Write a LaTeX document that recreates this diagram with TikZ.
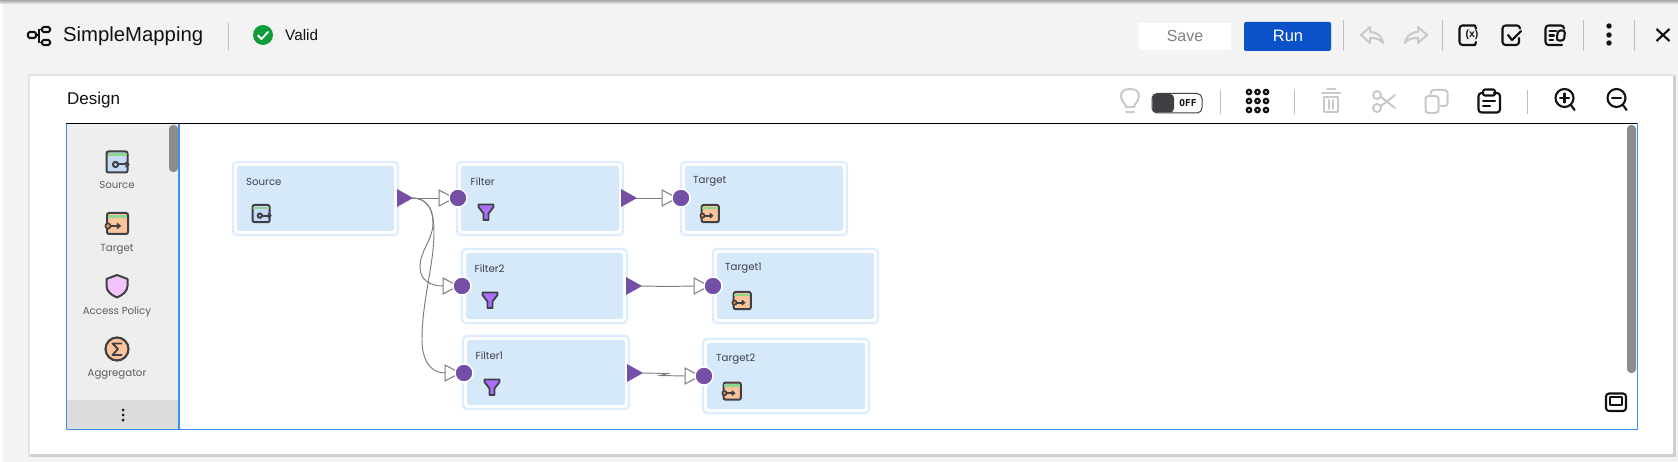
\documentclass[tikz,border=0pt]{standalone}
\usepackage{fontspec}
\setmainfont{Liberation Sans}
\newfontfamily\geo{Poppins}
\newfontfamily\offf{DejaVu Sans Mono}
\usetikzlibrary{calc}
\definecolor{bgc}{HTML}{F3F3F3}
\definecolor{cardsh}{HTML}{D0D0D0}
\definecolor{cardsl}{HTML}{E4E4E4}
\definecolor{canv}{HTML}{3B8FEF}
\definecolor{sideb}{HTML}{EEEEEE}
\definecolor{sidebot}{HTML}{DCDCDC}
\definecolor{scr}{HTML}{8C8C8C}
\definecolor{nfill}{HTML}{D6E9FB}
\definecolor{nedge}{HTML}{DDEDFD}
\definecolor{port}{HTML}{7350A5}
\definecolor{wirec}{HTML}{7C7C7C}
\definecolor{ink}{HTML}{111111}
\definecolor{icod}{HTML}{3F3F44}
\definecolor{dis}{HTML}{C9C9C9}
\definecolor{sep}{HTML}{BDBDBD}
\definecolor{runb}{HTML}{0B52C9}
\definecolor{okg}{HTML}{0F9D3B}
\definecolor{srcb}{HTML}{C6DAF8}
\definecolor{trgo}{HTML}{FDC49C}
\definecolor{grn}{HTML}{8FD68F}
\definecolor{fun}{HTML}{AA70FF}
\definecolor{shl}{HTML}{F3C4FB}
\tikzset{
  x=1pt,y=-1pt,
  sepline/.style={draw=sep,line width=1pt},
  mapbox/.style={draw=nedge,line width=2.2pt,fill=white,rounded corners=4pt,inner sep=0pt},
  innerbox/.style={fill=nfill,rounded corners=2.5pt},
  maplabel/.style={font=\geo\fontsize{10.2}{12}\selectfont,text=icod,anchor=west,inner sep=0pt},
  sidelabel/.style={font=\geo\fontsize{10.2}{12}\selectfont,text=icod!85,inner sep=0pt},
  uitext/.style={text=ink,inner sep=0pt},
  wire/.style={draw=wirec,line width=.95pt},
  ic/.style={draw=ink,line width=2.1pt,line cap=round,line join=round},
  icg/.style={draw=dis,line width=2pt,line cap=round,line join=round},
  outtri/.style={fill=port},
  intri/.style={fill=white,draw=wirec,line width=1pt,line join=miter},
  indot/.style={circle,fill=port,draw=white,line width=1.4pt,minimum size=18pt,inner sep=0pt},
  pics/srcic/.style={code={
    \draw[fill=srcb,draw=icod,line width=2pt,rounded corners=2pt] (0,0) rectangle (21,21);
    \fill[grn] (1,2) rectangle (20,5);
    \draw[icod,line width=2pt] (9,13) circle[radius=2.6];
    \draw[icod,line width=2pt] (12,13) -- (22,13);
    \draw[icod,line width=1.6pt] (19,10.5) -- (22,13) -- (19,15.5);
  }},
  pics/trgic/.style={code={
    \draw[fill=trgo,draw=icod,line width=2pt,rounded corners=2pt] (2,0) rectangle (23,21);
    \fill[grn] (3,2) rectangle (22,5);
    \draw[draw=icod,fill=orange!80,line width=1.6pt] (3,13) circle[radius=2.6];
    \draw[icod,line width=2pt] (6,13) -- (15,13);
    \draw[icod,line width=1.6pt] (12,10.5) -- (15,13) -- (12,15.5);
  }},
  pics/funnelic/.style={code={
    \draw[fill=fun,draw=icod,line width=1.8pt,line join=round] (0.5,0.5) -- (15.5,0.5) -- (15.5,3) -- (10.5,9.5) -- (10.5,16) -- (5.5,16) -- (5.5,9.5) -- (0.5,3) -- cycle;
  }},
  pics/undoic/.style={code={
    \draw[icg] (0,8) -- (9,0) -- (9,5) .. controls (17,5) and (21,10) .. (22,16) .. controls (19,12) and (15,11) .. (9,11) -- (9,16) -- cycle;
  }}
}
\newcommand{\mapnode}[6]{%
  \pgfmathsetmacro{\mw}{#4-#2}\pgfmathsetmacro{\mh}{#5-#3}%
  \pgfmathsetmacro{\mx}{(#4+#2)/2}\pgfmathsetmacro{\my}{(#5+#3)/2}%
  \node[mapbox,minimum width=\mw pt,minimum height=\mh pt] (#1) at (\mx,\my) {};%
  \fill[innerbox] (#2+4,#3+4) rectangle (#4-4,#5-4);%
}
\newcommand{\outport}[3]{%
  \fill[outtri] (#2,#3-9) -- (#2+16,#3) -- (#2,#3+9) -- cycle;%
  \coordinate (#1) at (#2+15,#3);%
}
\newcommand{\inport}[3]{%
  \draw[intri] (#2-19,#3-8) -- (#2-4,#3) -- (#2-19,#3+8) -- cycle;%
  \coordinate (#1) at (#2-19,#3);%
  \node[indot] (#1dot) at (#2,#3) {};%
}
\begin{document}
\begin{tikzpicture}
\useasboundingbox (0,0) rectangle (1678,462);
% page
\fill[bgc] (0,0) rectangle (1678,462);
\fill[white] (0,0) rectangle (3,462);
\fill[top color=gray!70,bottom color=bgc] (0,0) rectangle (1678,4);
% header
\draw[ic,rounded corners=1.5pt] (28,32) rectangle (36,38);
\draw[ic,rounded corners=1.5pt] (42,27) rectangle (50,32);
\draw[ic,rounded corners=1.5pt] (42,40) rectangle (50,45);
\draw[ic,line width=1.6pt] (36,35) -- (39,35) -- (39,29.5) -- (42,29.5);
\draw[ic,line width=1.6pt] (39,35) -- (39,42.5) -- (42,42.5);
\node[uitext,anchor=west,font=\fontsize{20.3}{24}\selectfont] (title) at (63,36.5) {SimpleMapping};
\draw[sepline] (228,23) -- (228,50);
\fill[okg] (263,35) circle[radius=10];
\draw[white,line width=1.8pt,line cap=round,line join=round] (258,35.5) -- (261.5,39) -- (268,32);
\node[uitext,anchor=west,font=\fontsize{15.3}{18}\selectfont] (valid) at (285,35.5) {Valid};
\fill[white] (1139,23) rectangle (1231,50);
\node[text=gray,inner sep=0pt,font=\fontsize{16}{20}\selectfont] (save) at (1185,36) {Save};
\fill[runb,rounded corners=2pt] (1244,22) rectangle (1331,51);
\node[text=white,inner sep=0pt,font=\fontsize{16.5}{20}\selectfont] (run) at (1288,36) {Run};
\draw[sepline] (1343,20) -- (1343,51);
\pic at (1361,27) {undoic};
\pic[xscale=-1] at (1427,27) {undoic};
\draw[sepline] (1442,20) -- (1442,51);
% (x) icon
\begin{scope}[xshift=34pt]
\draw[ic,rounded corners=3pt] (1441,25.5) -- (1425.5,25.5) -- (1425.5,45) -- (1441,45);
\draw[ic] (1441,25.5) -- (1442,28.5);
\draw[ic] (1441,45) -- (1442,42);
\node[inner sep=0pt,text=ink,font=\bfseries\fontsize{10.5}{11}\selectfont] (xic) at (1438,35) {(x)};
\end{scope}
% check icon
\begin{scope}[xshift=38pt]
\draw[ic,rounded corners=3pt] (1482,28) -- (1482,25.5) -- (1464.5,25.5) -- (1464.5,45) -- (1481,45) -- (1481,38);
\draw[ic] (1470,35) -- (1474,40) -- (1483,31);
\end{scope}
% doc icon
\begin{scope}[xshift=42pt]
\draw[ic,rounded corners=3pt] (1522,28) -- (1522,25.5) -- (1503.5,25.5) -- (1503.5,45) -- (1520,45);
\draw[ic] (1507.5,31) -- (1514,31);
\draw[ic] (1507.5,35.5) -- (1512,35.5);
\draw[ic] (1507.5,40) -- (1511,40);
\draw[ic,rounded corners=2.5pt] (1516,30.5) -- (1523,30.5) -- (1522,40.5) -- (1514.5,40.5) -- cycle;
\end{scope}
\draw[sepline] (1583,20) -- (1583,51);
\foreach \yy in {26,35,43} \fill[ink] (1609,\yy) circle[radius=2.7];
\draw[sepline] (1634,20) -- (1634,51);
\draw[ic,line width=2.1pt,line cap=butt] (1656.5,29) -- (1669.5,41) (1669.5,29) -- (1656.5,41);
% card
\fill[cardsl] (28,74) rectangle (1676,457);
\fill[cardsh] (30,76) rectangle (1676,457);
\fill[white] (30,76) rectangle (1673,454);
\node[uitext,anchor=west,font=\fontsize{17}{20}\selectfont] (design) at (67,100.5) {Design};
% toolbar
\begin{scope}[xshift=3pt]
\draw[icg] (1123,107) .. controls (1122,103) and (1118,101) .. (1118,96) .. controls (1118,91) and (1122,89) .. (1127,89) .. controls (1132,89) and (1136,91) .. (1136,96) .. controls (1136,101) and (1132,103) .. (1131,107) -- cycle;
\draw[icg] (1123,112) -- (1131,112);
\end{scope}
\draw[draw=icod,line width=1pt,fill=white,rounded corners=5pt] (1152,93.5) rectangle (1202,113);
\fill[icod,rounded corners=4pt] (1152.5,94) rectangle (1174,112.5);
\node[inner sep=0pt,text=ink,font=\offf\bfseries\fontsize{9.5}{11}\selectfont] (off) at (1188,103) {OFF};
\draw[sepline] (1220,90) -- (1220,114);
\foreach \xx in {1249,1257.5,1266} \foreach \yy in {92,101,110}
  \draw[ink,line width=2.2pt] (\xx,\yy) circle[radius=2.2];
\draw[sepline] (1294,90) -- (1294,114);
% trash
\begin{scope}[xshift=21pt]
\draw[icg] (1301,93) -- (1319,93) (1306,89.5) -- (1314,89.5);
\draw[icg] (1303,97) -- (1303,112.5) -- (1317,112.5) -- (1317,97) -- cycle;
\draw[icg] (1308,100) -- (1308,109) (1312,100) -- (1312,109);
\end{scope}
% scissors
\begin{scope}[xshift=26pt]
\draw[icg] (1351,95) circle[radius=4] (1351,108) circle[radius=4];
\draw[icg] (1355,97) -- (1369,108) (1355,106) -- (1369,95);
\end{scope}
% copy
\begin{scope}[xshift=30.5pt]
\draw[icg,rounded corners=3pt] (1395,96) rectangle (1408,113);
\draw[icg,rounded corners=3pt] (1400,94) -- (1400,90) -- (1417,90) -- (1417,106) -- (1410,106);
\end{scope}
% clipboard
\begin{scope}[xshift=36pt]
\draw[ic,rounded corners=3pt] (1447,93) -- (1442.5,93) -- (1442.5,112.5) -- (1464,112.5) -- (1464,93) -- (1458,93);
\draw[ic,rounded corners=2pt] (1447,89.5) rectangle (1459,95.5);
\draw[ic] (1447,101) -- (1459,101) (1447,106) -- (1454,106);
\end{scope}
\draw[sepline] (1527,90) -- (1527,114);
% zoom
\begin{scope}[xshift=44.5pt]
\draw[ic] (1520,98) circle[radius=9];
\draw[ic] (1526.5,105) -- (1530,110);
\draw[ic] (1515.5,98) -- (1524.5,98) (1520,93.5) -- (1520,102.5);
\end{scope}
\begin{scope}[xshift=49.5pt]
\draw[ic] (1567,98) circle[radius=9];
\draw[ic] (1573.5,105) -- (1577,110);
\draw[ic] (1562.5,98) -- (1571.5,98);
\end{scope}
% canvas
\fill[white] (66,124) rectangle (1637,429);
\fill[sideb] (66,124) rectangle (179,429);
\fill[sidebot] (66,400) rectangle (179,429);
\draw[canv,line width=1pt] (66,124) rectangle (1637,429);
\draw[canv,line width=1.3pt] (179,124) -- (179,429);
\draw[black,line width=1.1pt] (66,123.5) -- (1637,123.5);
\fill[scr,rounded corners=4pt] (169,125) rectangle (178,172);
\fill[scr,rounded corners=4pt] (1627,125) rectangle (1636,373);
\draw[ic,rounded corners=3pt] (1606,393.5) rectangle (1626,411);
\draw[ic,line width=1.5pt] (1610,397) rectangle (1622,405);
% palette
\pic at (106.5,151.5) {srcic};
\node[sidelabel] (pSource) at (117,185) {Source};
\pic at (105,213) {trgic};
\node[sidelabel] (pTarget) at (117,249) {Target};
\draw[fill=shl,draw=icod,line width=2pt,line join=round] (117,275) -- (127.5,279) -- (127.5,286) .. controls (127.5,291) and (123,295) .. (117,297.5) .. controls (111,295) and (106.5,291) .. (106.5,286) -- (106.5,279) -- cycle;
\node[sidelabel] (pAccess) at (117,312) {Access Policy};
\draw[fill=trgo,draw=icod,line width=2.2pt] (117,349) circle[radius=11.5];
\draw[icod,line width=1.9pt,line join=round] (122,343.5) -- (112.5,343.5) -- (118,349) -- (112.5,355) -- (122,355);
\node[sidelabel] (pAgg) at (117,374) {Aggregator};
\foreach \yy in {410,415,420} \fill[ink] (123,\yy) circle[radius=1.5];
% mapping nodes
\mapnode{source}{233}{162}{398}{235}{Source}
\mapnode{filter}{457}{162}{623}{235}{Filter}
\mapnode{filtertwo}{462}{249}{627}{323}{Filter2}
\mapnode{filterone}{463}{336}{629}{409}{Filter1}
\mapnode{target}{681}{162}{847}{235}{Target}
\mapnode{targetone}{713}{249}{878}{323}{Target1}
\mapnode{targettwo}{703}{339}{869}{413}{Target2}
\node[maplabel] (lSource) at (246,181.5) {Source};
\node[maplabel] (lFilter) at (470.5,181.5) {Filter};
\node[maplabel] (lFilterTwo) at (474.5,269) {Filter2};
\node[maplabel] (lFilterOne) at (475.5,356) {Filter1};
\node[maplabel] (lTarget) at (693,181.5) {Target};
\node[maplabel] (lTargetOne) at (725,268.5) {Target1};
\node[maplabel] (lTargetTwo) at (716,359) {Target2};
\pic[scale=.82] at (252.5,205) {srcic};
\pic at (478,204) {funnelic};
\pic at (482,292) {funnelic};
\pic at (484,379) {funnelic};
\pic[scale=.82] at (700,205) {trgic};
\pic[scale=.82] at (732,292) {trgic};
\pic[scale=.82] at (722,382.5) {trgic};
% ports
\outport{sOut}{397}{198}
\outport{fOut}{621}{198}
\outport{ftOut}{626}{286}
\outport{foOut}{627}{373}
\inport{fIn}{458}{198}
\inport{ftIn}{462}{286}
\inport{foIn}{464}{373}
\inport{tIn}{681}{198}
\inport{ttIn}{713}{286}
\inport{toIn}{704}{376}
% connectors
\draw[wire] (sOut) -- (fIn);
\draw[wire] (sOut) .. controls (426,198) and (433,208) .. (433,223) .. controls (433,240) and (420,250) .. (420,267) .. controls (420,280) and (430,286) .. (ftIn);
\draw[wire] (sOut) .. controls (428,198) and (434,210) .. (434,232) .. controls (434,265) and (422,300) .. (422,340) .. controls (422,362) and (432,373) .. (foIn);
\draw[wire] (fOut) -- (tIn);
\draw[wire] (ftOut) -- (667,286.5) -- (ttIn);
\draw[wire] (foOut) -- (668,373.5) -- (660,375.5) -- (toIn);
\end{tikzpicture}
\end{document}
